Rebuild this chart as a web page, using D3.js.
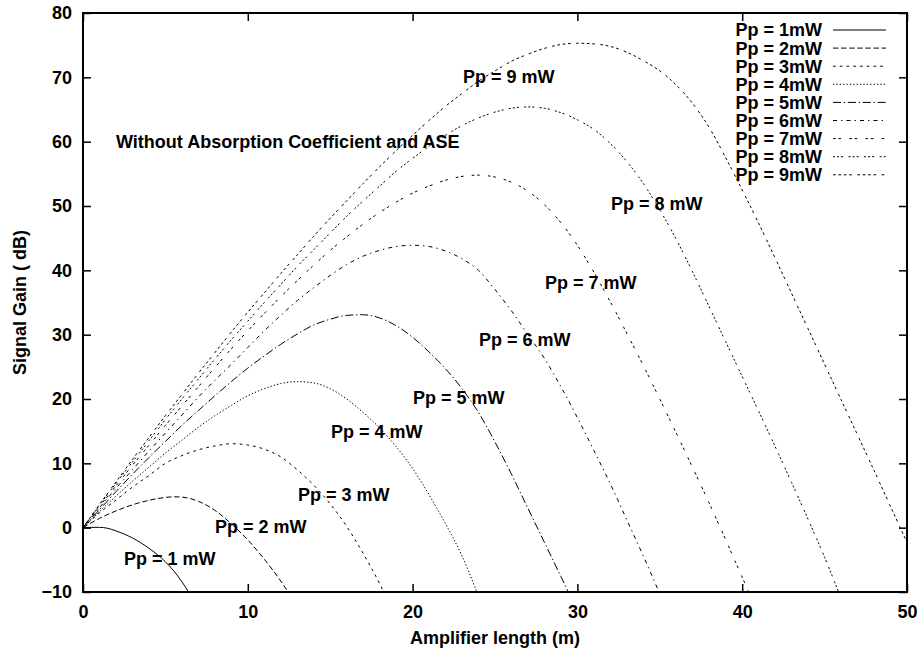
<!DOCTYPE html>
<html>
<head>
<meta charset="utf-8">
<script src="https://cdn.jsdelivr.net/npm/d3@7"></script>
<style>
  html, body { margin: 0; padding: 0; background: #fff; }
  svg { display: block; }
  text { font-family: "Liberation Sans", Arial, Helvetica, sans-serif; font-weight: bold; fill: #000; }
</style>
</head>
<body>
<svg id="chart" width="924" height="652"></svg>
<script>
// Signal gain (dB) versus amplifier length (m) for pump powers 1..9 mW
const seriesNames = ["Pp = 1mW", "Pp = 2mW", "Pp = 3mW", "Pp = 4mW", "Pp = 5mW",
                     "Pp = 6mW", "Pp = 7mW", "Pp = 8mW", "Pp = 9mW"];

const lenPp1 = [0, 0.5, 1, 1.5, 2, 3, 4, 5, 6, 6.4];
const gainPp1 = [0, 0.05, 0.05, -0.1, -0.5, -1.6, -3.2, -5.3, -8.4, -10];

const lenPp2 = [0, 1, 2, 3, 4, 5, 5.5, 6, 7, 8, 9, 10, 11, 12, 12.45];
const gainPp2 = [0, 1.45, 2.6, 3.55, 4.25, 4.7, 4.8, 4.75, 4.1, 2.7, 0.6, -1.9, -4.9, -8.3, -10];

const lenPp3 = [0, 1, 2, 3, 4, 5, 6, 7, 8, 9, 10, 11, 12, 13, 14, 15, 16, 17, 18, 18.25];
const gainPp3 = [0, 2.3, 4.3, 6.3, 8.1, 10.0, 11.2, 12.1, 12.7, 13.05, 12.85, 12.2, 11.0, 9.0, 6.6, 3.7, 0.2, -4.0, -8.7, -10];

const lenPp4 = [0, 1, 2, 3, 4, 5, 6, 7, 8, 9, 10, 11, 12, 13, 14, 15, 16, 17, 18, 19, 20, 21, 22, 23, 23.9];
const gainPp4 = [0, 2.5, 4.9, 7.2, 9.4, 11.6, 13.6, 15.6, 17.4, 19.0, 20.5, 21.6, 22.4, 22.7, 22.5, 21.6, 20.0, 17.9, 15.5, 12.6, 9.2, 5.1, 0.6, -4.4, -10];

const lenPp5 = [0, 1, 2, 3, 4, 5, 6, 7, 8, 9, 10, 11, 12, 13, 14, 15, 16, 17, 18, 19,
                20, 21, 22, 23, 24, 25, 26, 27, 28, 29, 29.45];
const gainPp5 = [0, 2.8, 5.6, 8.3, 10.9, 13.4, 15.9, 18.2, 20.5, 22.7, 24.8, 26.7, 28.5, 30.1, 31.5, 32.4, 33.0, 33.1, 32.6, 31.4,
                 29.6, 27.3, 24.7, 21.6, 17.9, 13.3, 8.3, 3.0, -2.3, -7.6, -10];

const lenPp6 = [0, 1, 2, 3, 4, 5, 6, 7, 8, 9, 10, 11, 12, 13, 14, 15, 16, 17, 18, 19,
                20, 21, 22, 23, 24, 25, 26, 27, 28, 29, 30, 31, 32, 33, 34, 34.95];
const gainPp6 = [0, 3.1, 6.1, 9.0, 11.9, 14.7, 17.5, 20.3, 22.9, 25.4, 28.0, 30.6, 33.0, 35.3, 37.3, 39.2, 40.9, 42.2, 43.1, 43.7,
                 43.9, 43.7, 43.0, 41.8, 40.0, 37.0, 33.7, 30.0, 26.3, 21.9, 17.1, 12.0, 6.8, 1.2, -4.4, -10];

const lenPp7 = [0, 1, 2, 3, 4, 5, 6, 7, 8, 9, 10, 11, 12, 13, 14, 15, 16, 17, 18, 19,
                20, 21, 22, 23, 24, 25, 26, 27, 28, 29, 30, 31, 32, 33, 34, 35, 36, 37, 38, 39, 40, 40.4];
const gainPp7 = [0, 3.3, 6.5, 9.7, 12.8, 15.9, 18.9, 21.9, 24.9, 27.8, 30.6, 33.3, 35.9, 38.4, 40.8, 43.1, 45.2, 47.2, 49.0, 50.6,
                 52.0, 53.1, 54.0, 54.6, 54.8, 54.5, 53.7, 52.3, 50.2, 47.4, 43.9, 39.7, 35.1, 30.2, 25.2, 20.0, 14.7, 9.3, 3.8, -1.9, -7.7, -10];

const lenPp8 = [0, 1, 2, 3, 4, 5, 6, 7, 8, 9, 10, 11, 12, 13, 14, 15, 16, 17, 18, 19,
                20, 21, 22, 23, 24, 25, 26, 27, 28, 29, 30, 31, 32, 33, 34, 35, 36, 37, 38, 39,
                40, 41, 42, 43, 44, 45, 45.85];
const gainPp8 = [0, 3.5, 6.9, 10.2, 13.5, 16.8, 20.0, 23.1, 26.2, 29.2, 32.1, 35.0, 37.8, 40.6, 43.2, 45.8, 48.4, 50.8, 53.1, 55.4,
                 57.4, 59.3, 61.0, 62.5, 63.7, 64.6, 65.2, 65.4, 65.2, 64.5, 63.4, 61.9, 59.7, 56.9, 53.5, 49.4, 44.8, 39.7, 34.3, 28.9,
                 23.5, 18.1, 12.6, 7.0, 1.3, -4.6, -10];

const lenPp9 = [0, 1, 2, 3, 4, 5, 6, 7, 8, 9, 10, 11, 12, 13, 14, 15, 16, 17, 18, 19,
                20, 21, 22, 23, 24, 25, 26, 27, 28, 29, 30, 31, 32, 33, 34, 35, 36, 37, 38, 39,
                40, 41, 42, 43, 44, 45, 46, 47, 48, 49, 50];
const gainPp9 = [0, 3.6, 7.1, 10.6, 14.0, 17.4, 20.7, 24.0, 27.2, 30.4, 33.5, 36.5, 39.5, 42.4, 45.3, 48.1, 50.8, 53.5, 56.1, 58.6,
                 61.0, 63.3, 65.5, 67.5, 69.4, 71.0, 72.5, 73.6, 74.5, 75.1, 75.3, 75.2, 74.8, 73.9, 72.6, 71.0, 68.8, 65.9, 62.2, 57.5,
                 52.5, 47.3, 41.9, 36.4, 30.9, 25.4, 19.9, 14.4, 8.9, 3.3, -2.3];

const xTicks = [0, 10, 20, 30, 40, 50];
const yTicks = [-10, 0, 10, 20, 30, 40, 50, 60, 70, 80];

const curveLabels = ["Pp = 1 mW", "Pp = 2 mW", "Pp = 3 mW", "Pp = 4 mW", "Pp = 5 mW",
                     "Pp = 6 mW", "Pp = 7 mW", "Pp = 8 mW", "Pp = 9 mW"];
const noteText = "Without Absorption Coefficient and ASE";

// ---- layout ----
const margin = { left: 83, right: 907, top: 13, bottom: 592 };
const svg = d3.select("#chart");

const x = d3.scaleLinear().domain([0, 50]).range([margin.left, margin.right]);
const y = d3.scaleLinear().domain([-10, 80]).range([margin.bottom, margin.top]);

// gnuplot-like dash patterns (line types 1..9)
const u = 1.35;
const dashes = [null, [4, 2], [2, 3], [1, 1.5], [6, 2, 1, 2], [3, 3, 1, 3], [2, 2, 2, 6],
                [1.5, 1.5, 1.5, 1.5, 1.5, 4], [2, 2, 2, 2, 2, 2, 2, 4]]
  .map(d => d ? d.map(v => v * u).join(",") : null);

const lens = [lenPp1, lenPp2, lenPp3, lenPp4, lenPp5, lenPp6, lenPp7, lenPp8, lenPp9];
const gains = [gainPp1, gainPp2, gainPp3, gainPp4, gainPp5, gainPp6, gainPp7, gainPp8, gainPp9];
const series = lens.map((l, i) => l.map((v, j) => [v, gains[i][j]]));

// clip to plotting area
svg.append("defs").append("clipPath").attr("id", "plotclip")
  .append("rect")
  .attr("x", margin.left).attr("y", margin.top)
  .attr("width", margin.right - margin.left).attr("height", margin.bottom - margin.top);

const line = d3.line()
  .x(d => x(d[0]))
  .y(d => y(d[1]))
  .curve(d3.curveMonotoneX);

svg.append("g").attr("clip-path", "url(#plotclip)")
  .selectAll("path")
  .data(series)
  .join("path")
  .attr("d", line)
  .attr("fill", "none")
  .attr("stroke", "#000")
  .attr("stroke-width", 1)
  .attr("stroke-dasharray", (d, i) => dashes[i]);

// ---- axes (inward ticks on all four sides) ----
const fs = 18;
const axB = d3.axisBottom(x).tickValues(xTicks).tickSizeInner(-8).tickSizeOuter(0).tickPadding(13).tickFormat(d3.format("d"));
const axT = d3.axisTop(x).tickValues(xTicks).tickSizeInner(-8).tickSizeOuter(0).tickFormat("");
const axL = d3.axisLeft(y).tickValues(yTicks).tickSizeInner(-8).tickSizeOuter(0).tickPadding(11).tickFormat(d3.format("d"));
const axR = d3.axisRight(y).tickValues(yTicks).tickSizeInner(-8).tickSizeOuter(0).tickFormat("");

function styleAxis(g) {
  g.select(".domain").remove();
  g.selectAll(".tick line").attr("stroke", "#000").attr("stroke-width", 1.5);
  g.selectAll(".tick text")
    .attr("font-size", fs)
    .attr("font-family", "Liberation Sans, Arial, sans-serif")
    .attr("font-weight", "bold")
    .attr("fill", "#000");
}

svg.append("g").attr("transform", `translate(0,${margin.bottom})`).call(axB).call(styleAxis);
svg.append("g").attr("transform", `translate(0,${margin.top})`).call(axT).call(styleAxis);
svg.append("g").attr("transform", `translate(${margin.left},0)`).call(axL).call(styleAxis);
svg.append("g").attr("transform", `translate(${margin.right},0)`).call(axR).call(styleAxis);

// frame
svg.append("rect")
  .attr("x", margin.left).attr("y", margin.top)
  .attr("width", margin.right - margin.left).attr("height", margin.bottom - margin.top)
  .attr("fill", "none").attr("stroke", "#000").attr("stroke-width", 2);

// axis titles
svg.append("text")
  .attr("x", (margin.left + margin.right) / 2).attr("y", 644)
  .attr("text-anchor", "middle").attr("font-size", fs)
  .text("Amplifier length (m)");

svg.append("text")
  .attr("transform", `translate(26,${(margin.top + margin.bottom) / 2}) rotate(-90)`)
  .attr("text-anchor", "middle").attr("font-size", fs)
  .text("Signal Gain ( dB)");

// ---- in-plot annotations (left x, vertical centre in pixels) ----
const labelPos = [[124, 559], [215, 527], [298, 495], [331, 432], [413, 398],
                  [479, 340], [545, 283], [611, 204], [463, 77]];
svg.append("g").selectAll("text")
  .data(curveLabels)
  .join("text")
  .attr("x", (d, i) => labelPos[i][0])
  .attr("y", (d, i) => labelPos[i][1])
  .attr("dy", "0.36em")
  .attr("font-size", fs)
  .text(d => d);

svg.append("text")
  .attr("x", 116).attr("y", 142).attr("dy", "0.36em")
  .attr("font-size", fs)
  .text(noteText);

// ---- legend ----
const legend = svg.append("g");
const rowH = 18.1, legTop = 30;
const rows = legend.selectAll("g").data(seriesNames).join("g")
  .attr("transform", (d, i) => `translate(0,${legTop + i * rowH})`);
rows.append("text")
  .attr("x", 822).attr("y", 0).attr("dy", "0.36em")
  .attr("text-anchor", "end").attr("font-size", fs)
  .text(d => d);
rows.append("line")
  .attr("x1", 833).attr("x2", 886).attr("y1", 0).attr("y2", 0)
  .attr("stroke", "#000").attr("stroke-width", 1)
  .attr("stroke-dasharray", (d, i) => dashes[i]);
</script>
</body>
</html>
